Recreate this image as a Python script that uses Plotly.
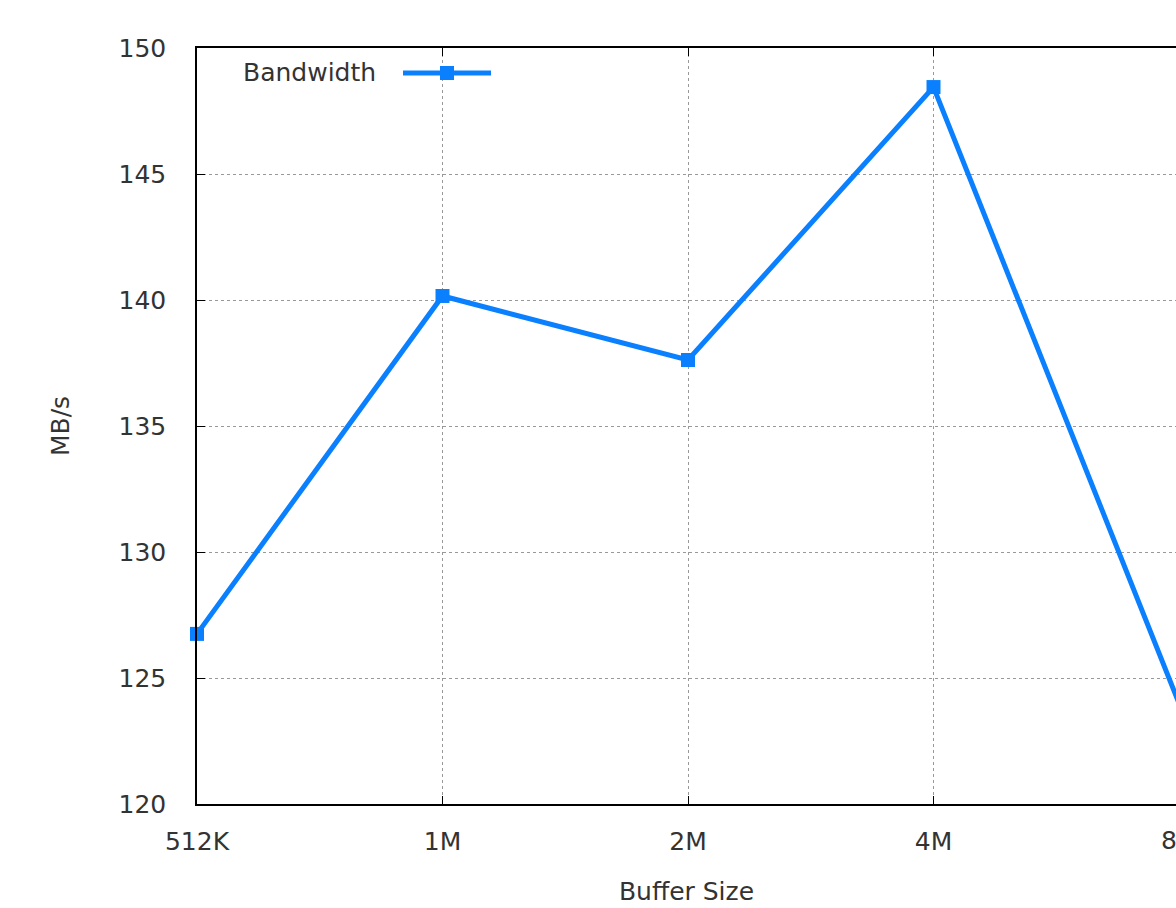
import plotly.graph_objects as go

categories = ["512K", "1M", "2M", "4M", "8M"]
bandwidth = [126.75, 140.16, 137.62, 148.45, 124.0]
y_ticks = [120, 125, 130, 135, 140, 145, 150]

BLUE = "#0a80ff"
FONT = "DejaVu Sans"
FS = 25
TXT = "#333"
W, H = 1176, 908
L, T, B, R = 197, 48, 104, 0
pw, ph = W - L - R, H - T - B
step = 245.5  # px between categories

xs = list(range(len(categories)))

fig = go.Figure()
fig.add_trace(go.Scatter(
    x=xs, y=bandwidth, mode="lines+markers",
    line=dict(color=BLUE, width=5),
    marker=dict(symbol="square", size=14, color=BLUE),
    cliponaxis=False, showlegend=False, name="Bandwidth",
))

def px_x(p):
    return (p - L) / pw

def px_y(p):
    return (H - B - p) / ph

# legend drawn gnuplot-style: text on the left, sample on the right
fig.add_annotation(x=px_x(378), y=px_y(73), xref="paper", yref="paper",
                   text="Bandwidth", showarrow=False, xanchor="right", yanchor="middle",
                   font=dict(family=FONT, size=FS, color=TXT))
fig.add_shape(type="line", xref="paper", yref="paper",
              x0=px_x(403), x1=px_x(491), y0=px_y(73), y1=px_y(73),
              line=dict(color=BLUE, width=5))
fig.add_shape(type="rect", xref="paper", yref="paper",
              x0=px_x(440), x1=px_x(454), y0=px_y(80), y1=px_y(66),
              line=dict(width=0), fillcolor=BLUE)

# last tick label, partly beyond the visible canvas
fig.add_annotation(x=px_x(L + 4 * step), y=px_y(840), xref="paper", yref="paper",
                   text=categories[4], showarrow=False, xanchor="center", yanchor="middle",
                   font=dict(family=FONT, size=FS, color=TXT))

fig.update_layout(
    width=W, height=H,
    margin=dict(l=L, r=R, t=T, b=B, pad=0),
    plot_bgcolor="white", paper_bgcolor="white",
    font=dict(family=FONT, size=FS, color=TXT),
    xaxis=dict(
        range=[0, pw / step],
        tickvals=xs, ticktext=categories,
        showline=True, linecolor="black", linewidth=1.5, mirror="ticks",
        ticks="inside", ticklen=8, tickcolor="black",
        showgrid=True, gridcolor="#999", griddash="dot", gridwidth=1,
        zeroline=False,
        title=dict(text="Buffer Size", font=dict(family=FONT, size=FS, color=TXT), standoff=28),
        tickfont=dict(family=FONT, size=FS, color=TXT),
        ticklabelstandoff=14,
    ),
    yaxis=dict(
        range=[120, 150],
        tickvals=y_ticks,
        showline=True, linecolor="black", linewidth=1.5, mirror=False,
        ticks="inside", ticklen=8, tickcolor="black",
        showgrid=True, gridcolor="#999", griddash="dot", gridwidth=1,
        zeroline=False,
        title=dict(text="MB/s", font=dict(family=FONT, size=FS, color=TXT), standoff=42),
        tickfont=dict(family=FONT, size=FS, color=TXT),
        ticklabelstandoff=24,
    ),
)

fig.write_html("out.html", config={"displayModeBar": False},
               post_script="document.body.style.margin='0';")
